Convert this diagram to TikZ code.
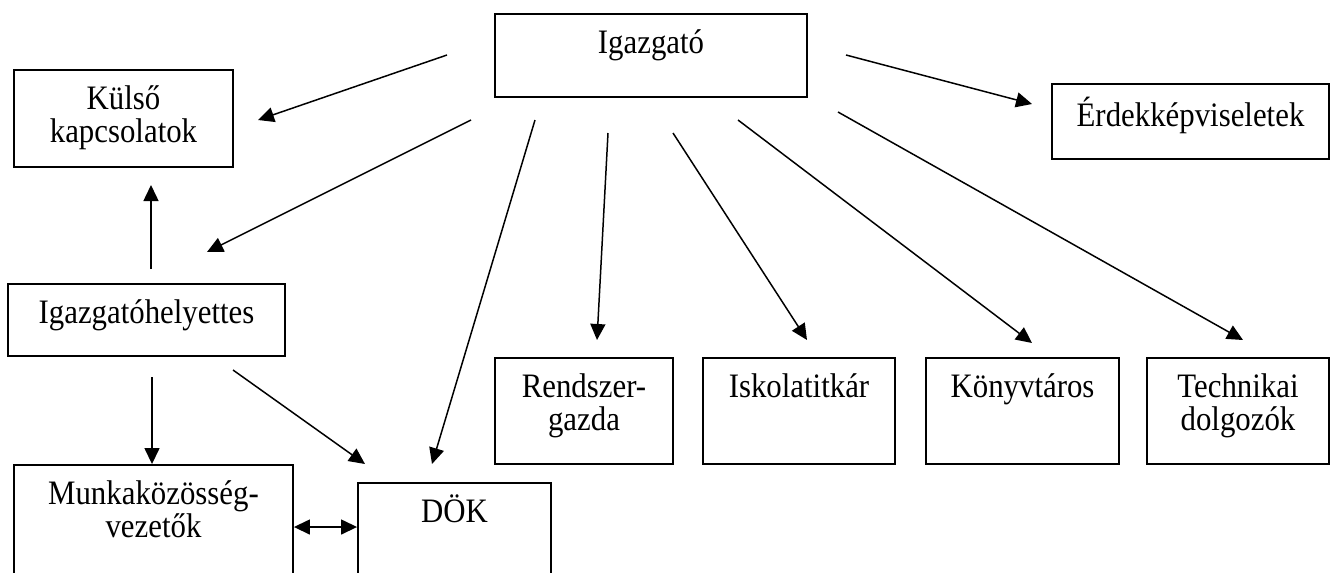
\documentclass[tikz,border=0pt]{standalone}
\usepackage{fontspec}
\setmainfont{Liberation Serif}[FakeStretch=0.9]
\usetikzlibrary{arrows.meta}

\begin{document}
\begin{tikzpicture}[
    x=0.02cm, y=-0.02cm,
    every node/.style={draw, line width=1.1pt, inner sep=0pt, align=center, text height=0.78cm, font=\fontsize{19.5}{19}\selectfont},
    arr/.style={-{Triangle[length=0.32cm, width=0.3cm]}, line width=0.85pt},
    arrboth/.style={{Triangle[length=0.32cm, width=0.3cm]}-{Triangle[length=0.32cm, width=0.3cm]}, line width=0.85pt}
  ]

  \useasboundingbox (0,0) rectangle (1338,572);
  \clip (0,0) rectangle (1338,572);

  % Boxes
  \node[minimum width=6.24cm, text depth=0.88cm] (igazgato) at (651,55.5) {Igazgató};
  \node[minimum width=4.38cm, text height=1.45cm, text depth=0.49cm] (kulso) at (123.5,118.5) {Külső\\kapcsolatok};
  \node[minimum width=5.54cm, text height=0.84cm, text depth=0.66cm] (erdek) at (1190.5,121.5) {Érdekképviseletek};
  \node[minimum width=5.54cm, text depth=0.66cm] (helyettes) at (146.5,320) {Igazgatóhelyettes};
  \node[minimum width=3.56cm, text height=1.45cm, text depth=0.67cm] (rendszer) at (584,411) {Rendszer-\\gazda};
  \node[minimum width=3.84cm, text depth=1.34cm] (titkar) at (799,411) {Iskolatitkár};
  \node[minimum width=3.86cm, text depth=1.34cm] (konyv) at (1022.5,411) {Könyvtáros};
  \node[minimum width=3.64cm, text height=1.45cm, text depth=0.67cm] (techn) at (1238,411) {Technikai\\dolgozók};
  \node[minimum width=5.58cm, text height=1.45cm, text depth=1.25cm] (munka) at (153.5,532.5) {Munkaközösség-\\vezetők};
  \node[minimum width=3.86cm, text depth=1.56cm] (dok) at (454.5,541.5) {DÖK};

  % Arrow ends
  \coordinate (ig-k1) at (447,55);   \coordinate (ig-k2) at (258,120);
  \coordinate (ig-h1) at (471,120);  \coordinate (ig-h2) at (207,252);
  \coordinate (ig-d1) at (535,120);  \coordinate (ig-d2) at (432,464);
  \coordinate (ig-r1) at (608,133);  \coordinate (ig-r2) at (597,340);
  \coordinate (ig-t1) at (673,133);  \coordinate (ig-t2) at (807,340);
  \coordinate (ig-kv1) at (738,120); \coordinate (ig-kv2) at (1032,343);
  \coordinate (ig-te1) at (838,112); \coordinate (ig-te2) at (1243,340);
  \coordinate (ig-e1) at (846,55);   \coordinate (ig-e2) at (1032,104);
  \coordinate (h-k1) at (151,269);   \coordinate (h-k2) at (151,185);
  \coordinate (h-m1) at (152,377);
  \coordinate (h-d1) at (233,370);   \coordinate (h-d2) at (365,464);
  \coordinate (md) at (0,527);

  % Arrows
  \draw[arr] (ig-k1) -- (ig-k2);
  \draw[arr] (ig-h1) -- (ig-h2);
  \draw[arr] (ig-d1) -- (ig-d2);
  \draw[arr] (ig-r1) -- (ig-r2);
  \draw[arr] (ig-t1) -- (ig-t2);
  \draw[arr] (ig-kv1) -- (ig-kv2);
  \draw[arr] (ig-te1) -- (ig-te2);
  \draw[arr] (ig-e1) -- (ig-e2);
  \draw[arr] (h-k1) -- (h-k2);
  \draw[arr] (h-m1) -- (h-m1 |- munka.north);
  \draw[arr] (h-d1) -- (h-d2);
  \draw[arrboth] (munka.east |- md) -- (dok.west |- md);
\end{tikzpicture}
\end{document}
